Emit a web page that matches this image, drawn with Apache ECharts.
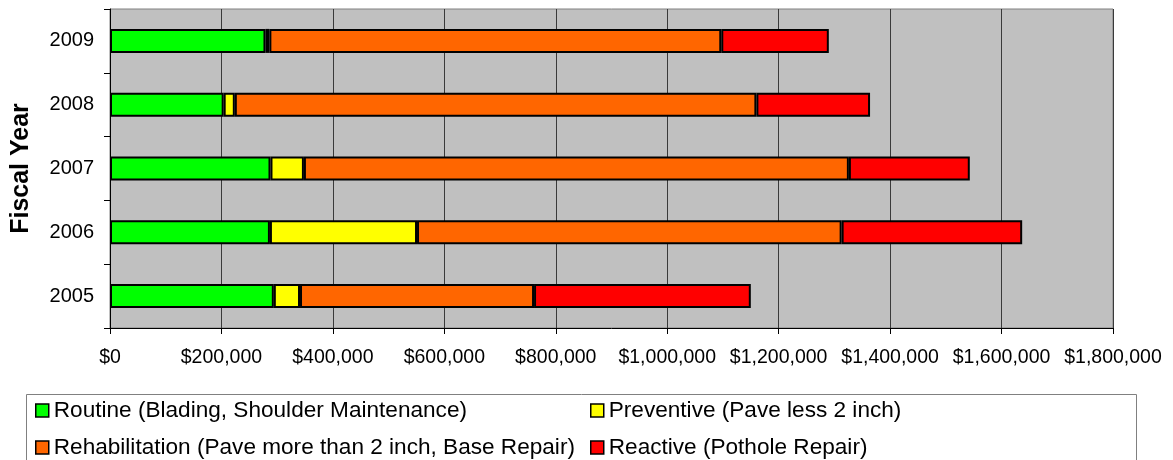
<!DOCTYPE html>
<html>
<head>
<meta charset="utf-8">
<title>Road Maintenance Spending by Fiscal Year</title>
<script src="https://cdn.jsdelivr.net/npm/echarts@6/dist/echarts.min.js"></script>
<style>
  html, body { margin: 0; padding: 0; background: #ffffff; }
  #chart { width: 1173px; height: 460px; }
</style>
</head>
<body>
<div id="chart"></div>
<script>
// Fiscal years (bottom to top on the category axis)
const years = ['2005', '2006', '2007', '2008', '2009'];

// Spending per maintenance type, in dollars
const routine        = [294000, 287000, 288000, 204000, 279000];
const preventive     = [47000, 264000, 60000, 20000, 7000];
const rehabilitation = [420000, 762000, 978000, 936000, 811000];
const reactive       = [389000, 324000, 217000, 204000, 193000];

// Series names as shown in the legend
const seriesNames = [
  'Routine (Blading, Shoulder Maintenance)',
  'Preventive (Pave less 2 inch)',
  'Rehabilitation (Pave more than 2 inch, Base Repair)',
  'Reactive (Pothole Repair)'
];
const seriesColors = ['#00ff00', '#ffff00', '#ff6600', '#ff0000'];
const seriesValues = [routine, preventive, rehabilitation, reactive];

// Value axis range
const axisMin = 0;
const axisMax = 1800000;
const axisStep = 200000;

const FONT = "'Liberation Sans', Arial, sans-serif";

function money(v) {
  return '$' + Math.round(v).toString().replace(/\B(?=(\d{3})+(?!\d))/g, ',');
}

const chart = echarts.init(document.getElementById('chart'), null, { renderer: 'canvas' });

const legendCommon = {
  orient: 'vertical',
  top: 399,
  padding: 0,
  itemGap: 14,
  itemWidth: 13,
  itemHeight: 13,
  icon: 'rect',
  selectedMode: false,
  textStyle: { fontFamily: FONT, fontSize: 22.6, color: '#000000' },
  itemStyle: { borderColor: '#000000', borderWidth: 1.5 }
};

const option = {
  backgroundColor: '#ffffff',
  animation: false,
  textStyle: { fontFamily: FONT },
  grid: {
    left: 110,
    top: 9,
    width: 1003,
    height: 319,
    show: true,
    backgroundColor: '#c0c0c0',
    borderColor: '#808080',
    borderWidth: 1
  },
  legend: [
    Object.assign({}, legendCommon, { left: 35, data: [seriesNames[0], seriesNames[2]] }),
    Object.assign({}, legendCommon, { left: 590, data: [seriesNames[1], seriesNames[3]] })
  ],
  graphic: [{
    type: 'rect',
    silent: true,
    z: -1,
    shape: { x: 26.5, y: 394.5, width: 1110, height: 90 },
    style: { fill: '#ffffff', stroke: '#808080', lineWidth: 1 }
  }],
  xAxis: {
    type: 'value',
    min: axisMin,
    max: axisMax,
    interval: axisStep,
    axisLine: { show: true, lineStyle: { color: '#000000', width: 1 } },
    axisTick: { show: true, inside: false, length: 6, lineStyle: { color: '#000000' } },
    axisLabel: {
      color: '#000000',
      fontFamily: FONT,
      fontSize: 19.5,
      margin: 20,
      formatter: money
    },
    splitLine: { show: true, lineStyle: { color: '#3a3a3a', width: 1 } }
  },
  yAxis: {
    type: 'category',
    data: years,
    name: 'Fiscal Year',
    nameLocation: 'middle',
    nameGap: 76,
    nameRotate: 90,
    nameTextStyle: { fontFamily: FONT, fontSize: 25, fontWeight: 'bold', color: '#000000' },
    axisLine: { show: true, lineStyle: { color: '#000000', width: 1 } },
    axisTick: { show: true, inside: false, length: 6, alignWithLabel: false, lineStyle: { color: '#000000' } },
    axisLabel: { color: '#000000', fontFamily: FONT, fontSize: 20, margin: 16 },
    splitLine: { show: false }
  },
  series: seriesNames.map((name, i) => ({
    name: name,
    type: 'bar',
    stack: 'total',
    barWidth: 24,
    data: seriesValues[i],
    itemStyle: { color: seriesColors[i], borderColor: '#000000', borderWidth: 2 },
    emphasis: { disabled: true }
  }))
};

chart.setOption(option);
</script>
</body>
</html>
